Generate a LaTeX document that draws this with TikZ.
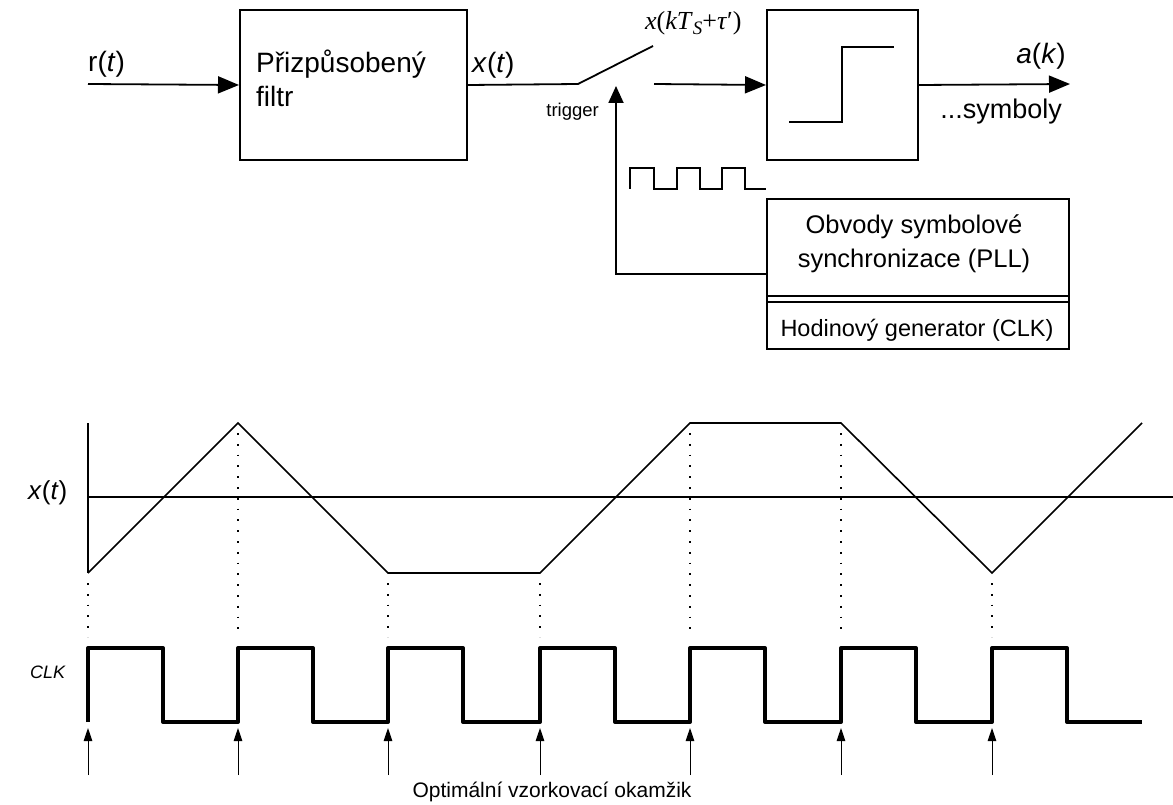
\documentclass[tikz,border=0pt]{standalone}
\usepackage{fontspec}
\setmainfont{Liberation Sans}
\newfontfamily\tms{Liberation Serif}
\usetikzlibrary{arrows.meta}
\tikzset{
  blk/.style={draw, line width=2pt, inner sep=0pt},
  conn/.style={line width=1.8pt},
  bigarrow/.style={conn, -{Triangle[length=21pt,width=17pt]}},
  smallarrow/.style={line width=1pt, -{Triangle[length=13pt,width=8.5pt]}},
  wave/.style={line width=1.6pt, line join=miter},
  clkline/.style={line width=4pt, line join=round},
  guide/.style={line width=1.8pt, dash pattern=on 1.8pt off 9pt},
  lbl/.style={inner sep=0pt, font=\fontsize{28}{34}\selectfont},
}
\begin{document}
\begin{tikzpicture}[x=1pt, y=-1pt]
\useasboundingbox (0,0) rectangle (1173,805);

% ---------- receiver block chain ----------
\node[blk, minimum width=227pt, minimum height=150pt, anchor=north west] (filt) at (239,9) {};
\node[lbl, anchor=base west] (filtA) at (256,73) {Přizpůsobený};
\node[lbl, anchor=base west] (filtB) at (256,107) {filtr};

\node[blk, minimum width=151pt, minimum height=150pt, anchor=north west] (dec) at (766,9) {};
\draw[line width=2pt] (789,122) -- (842,122) -- (842,47) -- (894,47);

\node[blk, minimum width=302pt, minimum height=150pt, anchor=north west] (pll) at (766,198) {};
\draw[line width=1.8pt] (766,296) -- (1068,296);
\draw[line width=1.8pt] (766,302) -- (1068,302);
\node[inner sep=0pt, font=\fontsize{25.5}{34}\selectfont, anchor=base] (pllA) at (914,234) {Obvody symbolové};
\node[inner sep=0pt, font=\fontsize{25.5}{34}\selectfont, anchor=base] (pllB) at (914,268) {synchronizace (PLL)};
\node[inner sep=0pt, font=\fontsize{23.5}{28}\selectfont, anchor=base] (clkgen) at (917,336) {Hodinový generator (CLK)};

% input, sampling switch and output
\coordinate (rin) at (88,84);
\coordinate (sw0) at (578,84);
\coordinate (sw1) at (653,46);
\coordinate (sw2) at (654,84);
\coordinate (aout) at (1070,84);
\coordinate (trig) at (616,86);

\draw[bigarrow] (rin) -- (filt.west);
\draw[conn] (filt.east) -- (sw0) -- (sw1);
\draw[bigarrow] (sw2) -- (dec.west);
\draw[bigarrow] (dec.east) -- (aout);
\draw[conn, -{Triangle[length=17pt,width=15pt]}] (pll.west) -| (trig);

\node[lbl, anchor=base west] (rlab) at (88,72) {r(\textit{t})};
\node[lbl, anchor=base west] (xlab) at (472,73) {\textit{x}(\textit{t})};
\node[inner sep=0pt, anchor=base west, font=\fontsize{26}{30}\selectfont\tms] (samp) at (645,30)
  {\textit{x}(\textit{kT}\raisebox{-5pt}{\fontsize{19}{22}\selectfont\textit{S}}+\textit{τ}′)};
\node[inner sep=0pt, anchor=base east, font=\fontsize{18.5}{22}\selectfont] (tlab) at (599,117) {trigger};
\node[lbl, anchor=base east] (alab) at (1066,64) {\textit{a}(\textit{k})};
\node[inner sep=0pt, anchor=base east, font=\fontsize{27}{32}\selectfont] (slab) at (1062,119) {...symboly};

% clock pulses feeding the PLL
\draw[line width=1.8pt] (630,189) -- (630,168) -- (654,168) -- (654,189) -- (677,189)
  -- (677,168) -- (700,168) -- (700,189) -- (722,189) -- (722,168) -- (745,168)
  -- (745,189) -- (766,189);

% ---------- timing diagram ----------
\draw[line width=1.6pt] (88,423) -- (88,573);
\draw[line width=2.6pt] (88,497) -- (1173,497);
\draw[wave] (88,573) -- (238,423) -- (388,573) -- (540,573) -- (690,423)
  -- (841,423) -- (992,573) -- (1142,423);

\foreach \x/\y in {88/573,238/423,388/573,540/573,690/423,841/423,992/573}
  \draw[guide] (\x,\y+10) -- (\x,637);

\draw[clkline] (88,722) -- (88,648) -- (163,648) -- (163,722) -- (238,722)
  -- (238,648) -- (313,648) -- (313,722) -- (388,722)
  -- (388,648) -- (463,648) -- (463,722) -- (540,722)
  -- (540,648) -- (615,648) -- (615,722) -- (690,722)
  -- (690,648) -- (765,648) -- (765,722) -- (841,722)
  -- (841,648) -- (916,648) -- (916,722) -- (992,722)
  -- (992,648) -- (1067,648) -- (1067,722) -- (1142,722);

\foreach \x in {88,238,388,540,690,841,992}
  \draw[smallarrow] (\x,775) -- (\x,728);

\node[inner sep=0pt, anchor=base west, font=\fontsize{26}{30}\selectfont] (xt) at (28,499) {\textit{x}(\textit{t})};
\node[inner sep=0pt, anchor=base west, font=\fontsize{18}{20}\selectfont] (clklab) at (30,678) {\textit{CLK}};
\node[inner sep=0pt, anchor=base, font=\fontsize{21}{24}\selectfont] (opt) at (552,797) {Optimální vzorkovací okamžik};
\end{tikzpicture}
\end{document}
